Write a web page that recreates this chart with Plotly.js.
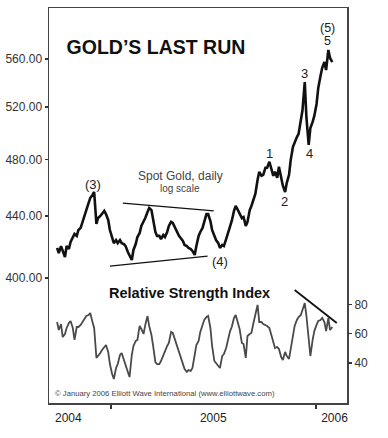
<!DOCTYPE html>
<html>
<head>
<meta charset="utf-8">
<script src="https://cdn.plot.ly/plotly-3.0.1.min.js"></script>
<style>html,body{margin:0;padding:0;background:#fff;}#chart{width:388px;height:438px;}</style>
</head>
<body>
<div id="chart"></div>
<script>
// ---- data ----
const dates = ['2004-09-27','2004-09-30','2004-10-04','2004-10-07','2004-10-11','2004-10-14','2004-10-18','2004-10-21','2004-10-25','2004-10-28','2004-11-01','2004-11-04','2004-11-08','2004-11-11','2004-11-15','2004-11-18','2004-11-22','2004-11-25','2004-11-29','2004-12-02','2004-12-06','2004-12-09','2004-12-13','2004-12-16','2004-12-20','2004-12-23','2004-12-27','2004-12-30',
'2005-01-03','2005-01-06','2005-01-10','2005-01-13','2005-01-17','2005-01-20','2005-01-24','2005-01-27','2005-01-31','2005-02-03','2005-02-07','2005-02-10','2005-02-14','2005-02-17','2005-02-21','2005-02-24','2005-02-28','2005-03-03','2005-03-07','2005-03-10','2005-03-14','2005-03-17','2005-03-21','2005-03-24','2005-03-28','2005-03-31','2005-04-04','2005-04-07','2005-04-11','2005-04-14','2005-04-18','2005-04-21','2005-04-25','2005-04-28','2005-05-02','2005-05-05','2005-05-09','2005-05-12','2005-05-16','2005-05-19','2005-05-23','2005-05-26','2005-05-30','2005-06-02','2005-06-06','2005-06-09','2005-06-13','2005-06-16','2005-06-20','2005-06-23','2005-06-27','2005-06-30','2005-07-04','2005-07-07','2005-07-11','2005-07-14','2005-07-18','2005-07-21','2005-07-25','2005-07-28','2005-08-01','2005-08-04','2005-08-08','2005-08-11','2005-08-15','2005-08-18','2005-08-22','2005-08-25','2005-08-29','2005-09-01','2005-09-05','2005-09-08','2005-09-12','2005-09-15','2005-09-19','2005-09-22','2005-09-26','2005-09-29','2005-10-03','2005-10-06','2005-10-10','2005-10-13','2005-10-17','2005-10-20','2005-10-24','2005-10-27','2005-10-31','2005-11-03','2005-11-07','2005-11-10','2005-11-14','2005-11-17','2005-11-21','2005-11-24','2005-11-28','2005-12-01','2005-12-05','2005-12-08','2005-12-12','2005-12-15','2005-12-19','2005-12-22','2005-12-26','2005-12-29',
'2006-01-02','2006-01-05','2006-01-09','2006-01-12','2006-01-16','2006-01-19','2006-01-23','2006-01-26','2006-01-30'];

const goldPrice = [418.9,415.6,420.1,417.6,413.1,420.1,418.2,422.7,425.3,428.0,
426.7,430.6,432.0,436.0,441.3,444.0,448.8,452.3,454.4,456.5,
434.6,438.6,440.0,441.3,443.4,441.3,437.3,430.6,425.3,422.0,
424.0,422.0,424.0,422.0,421.4,420.1,416.3,413.7,411.2,417.6,
421.4,426.0,428.6,433.3,436.0,438.6,442.7,445.4,444.0,437.3,
429.3,426.7,426.7,424.6,427.3,426.0,429.3,433.3,436.0,435.3,
432.0,429.3,426.7,425.3,423.4,420.8,420.1,418.9,418.2,417.0,
414.4,420.1,426.7,429.3,432.0,436.0,441.3,441.3,436.6,430.6,
427.3,424.0,422.0,418.9,420.8,420.1,424.6,428.0,433.3,436.6,
443.4,446.8,444.0,441.3,438.6,439.3,433.3,436.0,444.0,446.8,
451.6,455.1,465.1,470.9,468.0,468.7,473.8,473.8,478.2,474.5,
468.0,470.9,466.6,474.5,466.6,460.9,456.5,463.0,468.7,479.6,
489.3,492.8,496.7,499.1,509.9,517.8,540.5,511.5,490.8,503.7,
508.4,513.1,522.6,535.5,545.6,552.3,557.4,550.6,567.8,560.9,
557.4];

const rsiValues = [68.0,62.5,66.6,57.7,59.8,63.9,67.3,68.7,63.9,55.7,
64.6,64.6,66.0,68.0,70.8,72.1,72.8,74.2,68.0,63.9,
43.4,44.7,46.8,48.8,50.9,52.3,47.5,39.2,32.4,29.0,
36.5,39.2,45.4,46.8,42.0,37.9,33.8,30.3,45.4,51.6,
55.0,55.7,65.3,63.2,59.8,66.0,72.1,65.3,59.1,51.6,
40.6,39.2,39.2,41.3,45.4,48.8,51.6,53.6,61.2,60.5,
55.7,52.3,46.8,44.0,38.6,35.8,33.8,35.1,34.5,36.5,
45.4,52.3,55.0,61.2,66.0,69.4,71.4,72.1,63.9,51.6,
41.3,40.0,37.9,36.5,44.7,46.1,50.2,55.7,61.8,64.6,
70.8,72.8,68.0,63.2,53.6,52.9,43.4,58.4,59.8,60.5,
68.0,73.5,79.7,68.0,68.0,66.6,66.0,65.3,63.9,59.8,
53.6,50.2,50.9,49.5,44.0,42.0,47.5,44.7,42.7,48.8,
57.7,65.3,69.4,71.4,72.8,76.2,81.0,72.1,55.7,44.7,
55.7,61.8,66.0,68.7,69.4,70.8,68.0,61.8,70.8,62.5,
64.6];

const upperTrendDates = ['2005-01-22','2005-07-03'];
const upperTrendValues = [448.8, 443.4];
const lowerTrendDates = ['2004-12-30','2005-06-22'];
const lowerTrendValues = [407.4, 413.7];
const rsiTrendDates = ['2005-11-24','2006-02-07'];
const rsiTrendValues = [89.9, 67.3];

const priceTicks = [400, 440, 480, 520, 560];
const rsiTicks = [40, 60, 80];
const yearLabels = ['2004', '2005', '2006'];
const yearLabelDates = ['2004-10-17', '2005-07-02', '2006-02-03'];
const yearBoundaries = ['2005-01-01', '2006-01-01'];

// ---- chart ----
const FONT = 'Liberation Sans, Arial, Helvetica, sans-serif';

const traces = [
  {x: dates, y: goldPrice, type: 'scatter', mode: 'lines', line: {color: '#111', width: 2.6}, hoverinfo: 'skip', showlegend: false},
  {x: upperTrendDates, y: upperTrendValues, type: 'scatter', mode: 'lines', line: {color: '#111', width: 1.2}, hoverinfo: 'skip', showlegend: false},
  {x: lowerTrendDates, y: lowerTrendValues, type: 'scatter', mode: 'lines', line: {color: '#111', width: 1.2}, hoverinfo: 'skip', showlegend: false},
  {x: dates, y: rsiValues, type: 'scatter', mode: 'lines', yaxis: 'y2', line: {color: '#4a4a4a', width: 1.8}, hoverinfo: 'skip', showlegend: false},
  {x: rsiTrendDates, y: rsiTrendValues, type: 'scatter', mode: 'lines', yaxis: 'y2', line: {color: '#111', width: 1.8}, hoverinfo: 'skip', showlegend: false}
];

function ann(text, x, y, size, opts) {
  return Object.assign({text: text, xref: 'paper', yref: 'paper', x: x, y: y, showarrow: false,
    xanchor: 'center', yanchor: 'middle', borderpad: 0,
    font: {family: FONT, size: size, color: '#222'}}, opts || {});
}

const layout = {
  width: 388, height: 438,
  margin: {l: 49, r: 41, t: 8, b: 35},
  paper_bgcolor: '#fff', plot_bgcolor: '#fff',
  showlegend: false,
  title: {text: '<b>GOLD’S LAST RUN</b>', x: 0.402, xanchor: 'center', y: 0.8934, yanchor: 'middle',
    font: {family: FONT, size: 19.5, color: '#111'}},
  xaxis: {
    type: 'date', range: ['2004-09-12 14:00', '2006-02-25 05:00'],
    showline: true, mirror: true, linecolor: '#444', linewidth: 1.5,
    showgrid: false, zeroline: false,
    tickmode: 'array', tickvals: yearLabelDates, ticktext: yearLabels, ticks: '',
    ticklabelstandoff: 3,
    tickfont: {family: FONT, size: 12, color: '#222'},
    minor: {tickmode: 'array', tickvals: yearBoundaries, ticks: 'outside', ticklen: 4, tickwidth: 1.5, tickcolor: '#333', showgrid: false},
    fixedrange: true
  },
  yaxis: {
    type: 'log', range: [2.51863, 2.78222],
    tickmode: 'array', tickvals: priceTicks, ticktext: priceTicks.map(v => v.toFixed(2)),
    ticks: 'outside', ticklen: 3, tickwidth: 1.5, tickcolor: '#333',
    showline: true, mirror: true, linecolor: '#444', linewidth: 1.5,
    showgrid: false, zeroline: false,
    tickfont: {family: FONT, size: 12, color: '#333'},
    fixedrange: true
  },
  yaxis2: {
    overlaying: 'y', side: 'right', anchor: 'x',
    range: [12.53, 283.08],
    tickmode: 'array', tickvals: rsiTicks, ticktext: rsiTicks.map(String),
    ticks: 'outside', ticklen: 4, tickwidth: 1.5, tickcolor: '#333',
    showline: false, showgrid: false, zeroline: false,
    tickfont: {family: FONT, size: 12, color: '#333'},
    fixedrange: true
  },
  annotations: [
    ann('(3)', 0.146, 0.5544, 13),
    ann('(4)', 0.5738, 0.3577, 13),
    ann('1', 0.7416, 0.6329, 13),
    ann('2', 0.7886, 0.5096, 13),
    ann('3', 0.8574, 0.8347, 13),
    ann('4', 0.8725, 0.6304, 13),
    ann('5', 0.9352, 0.9165, 12.5),
    ann('(5)', 0.9352, 0.9500, 12.5),
    ann('Spot Gold, daily', 0.4396, 0.5747, 12, {font: {family: FONT, size: 12, color: '#444'}}),
    ann('log scale', 0.4396, 0.5418, 10, {font: {family: FONT, size: 10, color: '#444'}}),
    ann('<b>Relative Strength Index</b>', 0.4698, 0.2785, 14.5, {font: {family: FONT, size: 14.5, color: '#111'}}),
    ann('© January 2006 Elliott Wave International (www.elliottwave.com)', 0.0168, 0.0246, 7.7,
      {xanchor: 'left', font: {family: FONT, size: 7.7, color: '#444'}})
  ]
};

Plotly.newPlot('chart', traces, layout, {staticPlot: true, displayModeBar: false});
</script>
</body>
</html>
